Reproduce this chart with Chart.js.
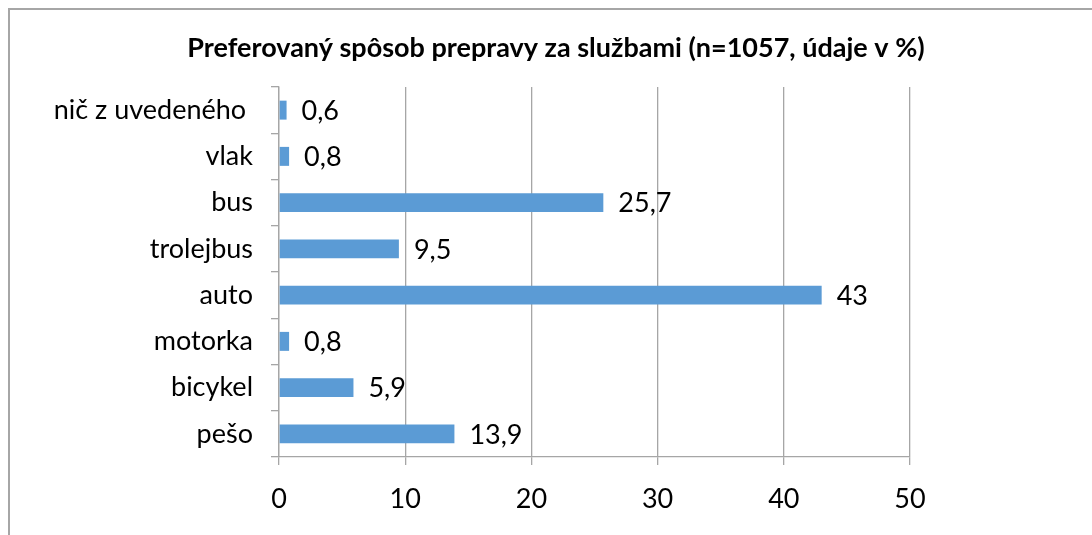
<!DOCTYPE html>
<html>
<head>
<meta charset="utf-8">
<script src="https://cdn.jsdelivr.net/npm/chart.js@4"></script>
<style>
  body { margin: 0; background: #fff; }
  #wrap { position: relative; width: 1092px; height: 535px; }
  #frame { position: absolute; left: 8px; top: 8px; right: 0; bottom: 0;
           border-top: 2px solid #a6a6a6; border-left: 2px solid #a6a6a6; }
  canvas { position: absolute; left: 0; top: 0; }
</style>
</head>
<body>
<div id="wrap">
  <div id="frame"></div>
  <canvas id="myChart" width="1092" height="535"></canvas>
</div>
<script>
var title = "Preferovaný spôsob prepravy za službami (n=1057, údaje v %)"
var categories = ["nič z uvedeného ", "vlak", "bus", "trolejbus", "auto", "motorka", "bicykel", "pešo"]
var values = [0.6, 0.8, 25.7, 9.5, 43, 0.8, 5.9, 13.9]
var xTicks = [0, 10, 20, 30, 40, 50]

var fontName = "Lato, 'Open Sans', sans-serif"

// title centred on the whole picture, not on the padded area
var pageTitle = {
    id: 'pageTitle',
    afterDraw: function(chart) {
        var ctx = chart.ctx
        ctx.save()
        ctx.font = "bold 27px " + fontName
        ctx.fillStyle = "#000"
        ctx.textAlign = "center"
        ctx.textBaseline = "middle"
        ctx.fillText(title, 556, 48)
        ctx.restore()
    }
}

// labels next to the bars, with comma decimals
var barLabels = {
    id: 'barLabels',
    afterDatasetsDraw: function(chart) {
        var ctx = chart.ctx
        var meta = chart.getDatasetMeta(0)
        ctx.save()
        ctx.font = "27px " + fontName
        ctx.fillStyle = "#000"
        ctx.textAlign = "left"
        ctx.textBaseline = "middle"
        meta.data.forEach(function(bar, i) {
            var txt = String(values[i]).replace(".", ",")
            ctx.fillText(txt, bar.x + 15, bar.y + 1)
        })
        ctx.restore()
    }
}

var myChart = document.getElementById("myChart").getContext('2d')

var chart = new Chart(myChart, {
    type: 'bar',
    data: {
        labels: categories,
        datasets: [{
            data: values,
            backgroundColor: "#5b9bd5",
            categoryPercentage: 1,
            barPercentage: 0.41
        }]
    },
    options: {
        indexAxis: 'y',
        responsive: false,
        animation: false,
        layout: { padding: { left: 0, right: 182, top: 87, bottom: 0 } },
        plugins: {
            legend: { display: false },
            tooltip: { enabled: false },
            title: { display: false }
        },
        scales: {
            x: {
                min: 0,
                max: 50,
                afterBuildTicks: function(scale) {
                    scale.ticks = xTicks.map(function(v) { return { value: v } })
                },
                afterFit: function(scale) { scale.height = 78 },
                grid: { color: "#a6a6a6", lineWidth: 1.3, tickLength: 8 },
                border: { color: "#a6a6a6", width: 1.3 },
                ticks: { color: "#000", padding: 18, font: { family: fontName, size: 27 } }
            },
            y: {
                afterFit: function(scale) { scale.width = 279 },
                grid: { drawOnChartArea: false, color: "#a6a6a6", lineWidth: 1.3, tickLength: 8 },
                border: { color: "#a6a6a6", width: 1.3 },
                ticks: { color: "#000", padding: 18, font: { family: fontName, size: 27 } }
            }
        }
    },
    plugins: [barLabels, pageTitle]
})
</script>
</body>
</html>
